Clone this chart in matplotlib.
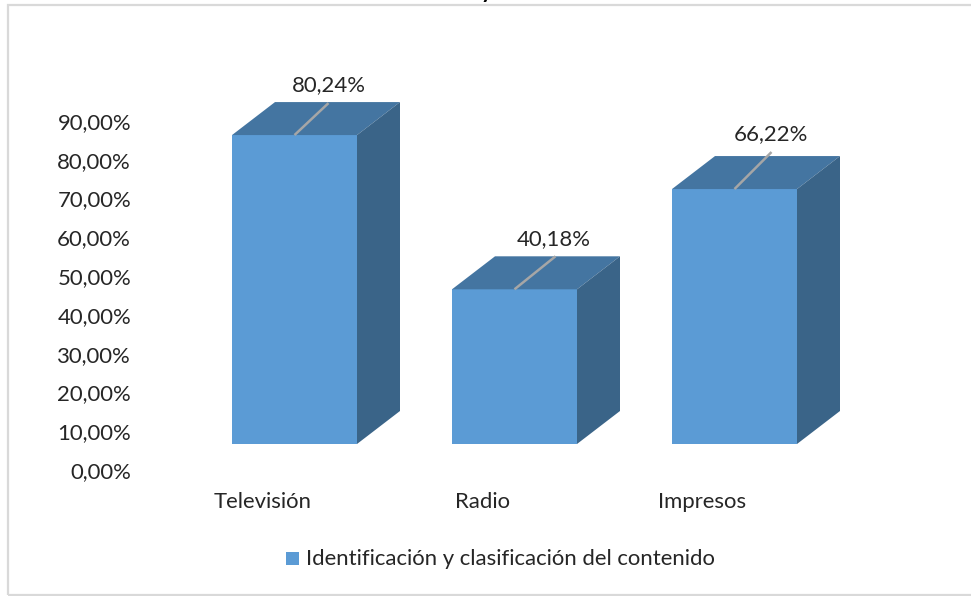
import matplotlib
matplotlib.use('Agg')
import matplotlib.pyplot as plt
import matplotlib.patches as mpatches

categories = ['Televisión', 'Radio', 'Impresos']
values = [80.24, 40.18, 66.22]
value_labels = ['80,24%', '40,18%', '66,22%']
y_ticks = [0, 10, 20, 30, 40, 50, 60, 70, 80, 90]
y_tick_labels = ['0,00%', '10,00%', '20,00%', '30,00%', '40,00%',
                 '50,00%', '60,00%', '70,00%', '80,00%', '90,00%']
series_name = 'Identificación y clasificación del contenido'

plt.rcParams['font.family'] = ['Lato', 'DejaVu Sans']

W, H = 971, 596
font_size = 15.9
front_color = '#5b9bd5'
top_color = '#4475a1'
side_color = '#3a6488'
text_color = '#262626'

# leader end and label baseline offsets per bar, in pixels
leader_dx = [34, 41, 37]
leader_dy = [32, 33, 37]
label_dx = [34, 39, 36]
label_dy = [44, 44, 49]

fig = plt.figure(figsize=(W / 100, H / 100), dpi=100)

# tick labels sit on a slightly different scale to the 3d bars
tick_right = 131
ax_ticks = fig.add_axes([tick_right / W, 0, 1 - tick_right / W, 1])
scale_ticks = (470 - 121) / 90.0
ax_ticks.set_ylim((470 - H) / scale_ticks, 470 / scale_ticks)
ax_ticks.patch.set_visible(False)
for s in ax_ticks.spines.values():
    s.set_visible(False)
ax_ticks.set_xticks([])
ax_ticks.set_yticks(y_ticks)
ax_ticks.set_yticklabels(y_tick_labels, fontsize=font_size, color=text_color)
ax_ticks.tick_params(axis='y', pad=0, length=0)

# bars axes: one x unit is one category step, y is percent
ax = fig.add_axes([0, 0, 1, 1])
ax.patch.set_visible(False)
step = 220.0
scale = 3.85
x0 = 294.5
ax.set_xlim(-x0 / step, (W - x0) / step)
ax.set_ylim((444 - H) / scale, 444 / scale)
ax.axis('off')

bar_w = 125 / step
dx = 43 / step
dy = 33 / scale

xs = list(range(len(categories)))
ax.bar(xs, values, width=bar_w, color=front_color, zorder=2)
for i, x in enumerate(xs):
    v = values[i]
    left = x - bar_w / 2
    right = x + bar_w / 2
    ax.fill([left, right, right + dx, left + dx], [v, v, v + dy, v + dy],
            color=top_color, lw=0, zorder=2)
    ax.fill([right, right + dx, right + dx, right], [0, dy, v + dy, v],
            color=side_color, lw=0, zorder=2)
    # leader line from the front edge to the data label
    ax.plot([x, x + leader_dx[i] / step], [v, v + leader_dy[i] / scale],
            color='#a6a6a6', lw=1.8, zorder=3, solid_capstyle='butt')
    ax.text(x + label_dx[i] / step, v + label_dy[i] / scale, value_labels[i],
            ha='center', va='baseline', fontsize=font_size, color=text_color, zorder=4)
    ax.text(x - 32 / step, -64 / scale, categories[i], ha='center', va='baseline',
            fontsize=font_size, color=text_color)

# chart frame, cut off at the right and bottom like the screenshot
frame = mpatches.Rectangle((8 / W, 1 / H), 2, (H - 6) / H, transform=fig.transFigure,
                           fill=False, edgecolor='#d9d9d9', lw=1.6, clip_on=False)
fig.add_artist(frame)

# tail of the title that the screenshot cut off
fig.text(487 / W, 1 + 2 / H, 'y', ha='center', va='baseline', fontsize=font_size,
         fontweight='bold', color='black')

# legend
fig.add_artist(mpatches.Rectangle((286 / W, 1 - 565 / H), 13 / W, 13 / H,
                                  transform=fig.transFigure, color=front_color, lw=0))
fig.text(306 / W, 1 - 565 / H, series_name, ha='left', va='baseline',
         fontsize=font_size, color=text_color)

fig.savefig('out.png', dpi=100)
